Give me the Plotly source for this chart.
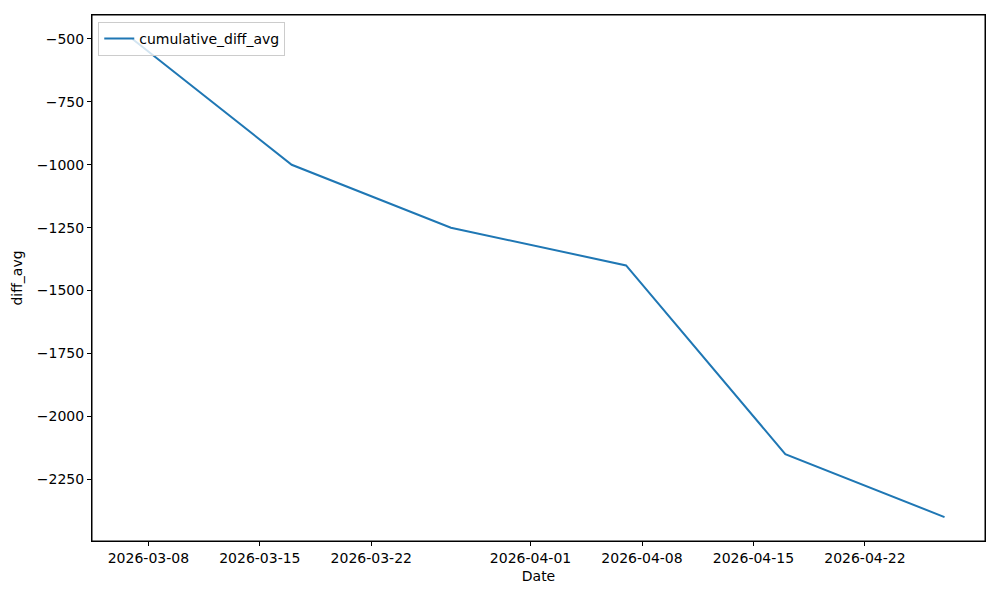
import plotly.graph_objects as go

dates = ["2026-03-07", "2026-03-17", "2026-03-27", "2026-04-07", "2026-04-17", "2026-04-27"]
cumulative_diff_avg = [-500, -1000, -1250, -1400, -2150, -2400]

x_ticks = ["2026-03-08", "2026-03-15", "2026-03-22", "2026-04-01", "2026-04-08", "2026-04-15", "2026-04-22"]
y_ticks = [-500, -750, -1000, -1250, -1500, -1750, -2000, -2250]

FONT = dict(family="DejaVu Sans, sans-serif", size=14, color="black")
AXIS = dict(
    showline=True, linecolor="black", linewidth=1, mirror=True,
    ticks="outside", ticklen=4, tickcolor="black", tickwidth=1,
    showgrid=False, zeroline=False,
    tickfont=FONT, title_font=FONT,
)

fig = go.Figure()
fig.add_trace(go.Scatter(
    x=dates, y=cumulative_diff_avg, mode="lines",
    name="cumulative_diff_avg",
    line=dict(color="#1f77b4", width=2),
))

# full axes frame, like matplotlib spines
fig.add_shape(type="rect", xref="paper", yref="paper", x0=0, x1=1, y0=0, y1=1,
              line=dict(color="black", width=1), layer="above")

fig.update_layout(
    width=1000, height=600,
    paper_bgcolor="white", plot_bgcolor="white",
    font=FONT,
    margin=dict(l=92, r=15, t=15, b=59),
    showlegend=True,
    legend=dict(
        x=0.007, y=0.987, xanchor="left", yanchor="top",
        bordercolor="#cccccc", borderwidth=1, bgcolor="rgba(255,255,255,0.8)",
        font=FONT,
    ),
    xaxis=dict(
        **AXIS, title_text="Date", title_standoff=6,
        range=["2026-03-04 11:00", "2026-04-29 13:00"],
        tickvals=x_ticks, tickformat="%Y-%m-%d",
    ),
    yaxis=dict(
        **AXIS, title_text="diff_avg", title_standoff=10,
        range=[-2495, -405], tickvals=y_ticks,
    ),
)

# drop the default body margin so the figure sits at the window origin
fig.write_html("out.html", config={"displayModeBar": False},
               post_script="document.body.style.margin='0';")
